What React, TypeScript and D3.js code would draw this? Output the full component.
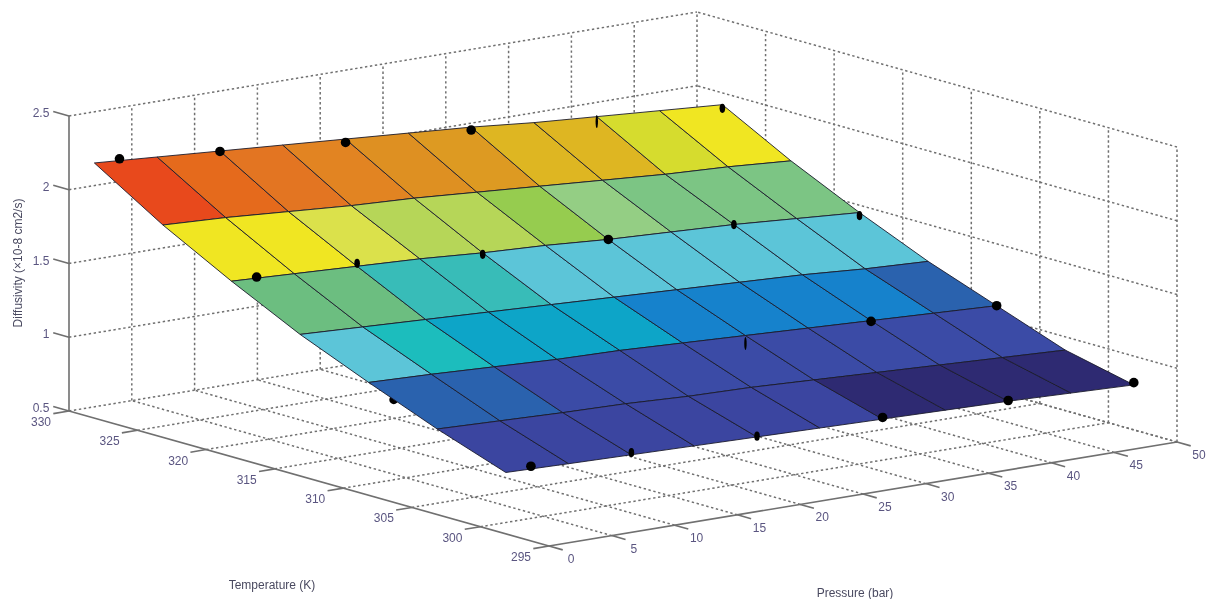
import React from "react";
import * as d3 from "d3";

// ---- data ----
const temperatures = [328.15, 323.15, 318.15, 313.15, 308.15, 303.15, 298.15];
const pressures = [0, 5, 10, 15, 20, 25, 30, 35, 40, 45, 50];
const row328 = [2.23, 2.2, 2.17, 2.14, 2.11, 2.08, 2.05, 2.01, 1.98, 1.95, 1.92];
const row323 = [1.94, 1.92, 1.89, 1.86, 1.84, 1.81, 1.78, 1.75, 1.72, 1.7, 1.67];
const row318 = [1.69, 1.67, 1.65, 1.63, 1.6, 1.58, 1.55, 1.53, 1.51, 1.48, 1.45];
const row313 = [1.46, 1.44, 1.42, 1.4, 1.38, 1.36, 1.34, 1.32, 1.3, 1.27, 1.25];
const row308 = [1.265, 1.25, 1.23, 1.21, 1.2, 1.18, 1.16, 1.14, 1.12, 1.1, 1.08];
const row303 = [1.08, 1.065, 1.05, 1.04, 1.02, 1.01, 0.99, 0.97, 0.95, 0.93, 0.91];
const row298 = [0.916, 0.905, 0.895, 0.885, 0.875, 0.865, 0.855, 0.845, 0.835, 0.82, 0.805];
const surface = [row328, row323, row318, row313, row308, row303, row298];

const pointPressures = [2, 10, 20, 30, 40, 50];
const points328 = [2.23, 2.167, 2.087, 2.03, 1.96, 1.895];
const points318 = [1.69, 1.67, 1.59, 1.55, 1.51, 1.43];
const points308 = [1.12, null, null, 1.12, 1.115, 1.08];
const points298 = [0.93, 0.91, 0.88, 0.866, 0.84, 0.82];
const pointRows: [number, (number | null)[]][] = [
  [328.15, points328], [318.15, points318], [308.15, points308], [298.15, points298],
];
// how much of each marker shows through the surface: 2 whole, 1 part, 0 sliver
const shown328 = [2, 2, 2, 2, 0, 1];
const shown318 = [2, 1, 1, 2, 1, 1];
const shown308 = [0, 0, 0, 0, 2, 2];
const shown298 = [2, 1, 1, 2, 2, 2];
const shownRows = [shown328, shown318, shown308, shown298];

const tempTicks = [295, 300, 305, 310, 315, 320, 325, 330];
const pressTicks = [0, 5, 10, 15, 20, 25, 30, 35, 40, 45, 50];
const zTicks = [0.5, 1, 1.5, 2, 2.5];
const zTickLabels = ["0.5", "1", "1.5", "2", "2.5"];

const bandLimits = [1.0, 1.09, 1.24, 1.28, 1.37, 1.43, 1.45, 1.61, 1.66, 1.695, 1.76, 1.79, 1.825, 1.875, 1.9, 1.965, 2.0, 2.065, 2.095, 2.12, 2.155, 2.185, 2.215];
const bandColors = ["#2e2a72", "#3a44a0", "#3a4ca6", "#2c62ae", "#1582cc", "#09a5c8", "#1fbdbd", "#5cc5d8", "#38bcb8", "#6cbe80", "#7bc584", "#94ce84", "#96cc50", "#b6d658", "#dbe14c", "#f0e620", "#d6dc2e", "#deb624", "#dd9a22", "#de9022", "#e28422", "#e37522", "#e56b1f", "#e8481f"];

// ---- scales: an orthographic view, one offset per data axis ----
const xT = d3.scaleLinear().domain([295, 330]).range([0, -480]);
const yT = d3.scaleLinear().domain([295, 330]).range([0, -135]);
const xP = d3.scaleLinear().domain([0, 50]).range([0, 628]);
const yP = d3.scaleLinear().domain([0, 50]).range([0, -104]);
const yZ = d3.scaleLinear().domain([0.5, 2.5]).range([0, -295]);
const color = d3.scaleThreshold<number, string>().domain(bandLimits).range(bandColors);

const originX = 549;
const originY = 546;
const proj = (t: number, p: number, z: number): [number, number] => [
  originX + xT(t) + xP(p),
  originY + yT(t) + yP(p) + yZ(z),
];
const line = d3.line<[number, number]>();
const seg = (a: [number, number, number], b: [number, number, number]) =>
  line([proj(a[0], a[1], a[2]), proj(b[0], b[1], b[2])]) as string;

const GRID = "#707070";
const AXIS = "#6f6f6f";
const TEXT = "#5a5580";
const FONT = "'Liberation Sans', Arial, sans-serif";

export default function App() {
  const gridPaths: string[] = [];
  // floor
  pressTicks.forEach((p) => { if (p > 0) gridPaths.push(seg([295, p, 0.5], [330, p, 0.5])); });
  tempTicks.forEach((t) => { if (t < 330 && t > 295) gridPaths.push(seg([t, 0, 0.5], [t, 50, 0.5])); });
  gridPaths.push(seg([330, 0, 0.5], [330, 50, 0.5]));
  // back-left wall (T = 330)
  pressTicks.forEach((p) => { if (p > 0) gridPaths.push(seg([330, p, 0.5], [330, p, 2.5])); });
  zTicks.forEach((z) => { if (z > 0.5) gridPaths.push(seg([330, 0, z], [330, 50, z])); });
  // back-right wall (P = 50)
  tempTicks.forEach((t) => { if (t < 330) gridPaths.push(seg([t, 50, 0.5], [t, 50, 2.5])); });
  zTicks.forEach((z) => gridPaths.push(seg([295, 50, z], [330, 50, z])));

  const faces: { d: string; fill: string }[] = [];
  for (let r = 0; r < temperatures.length - 1; r++) {
    for (let c = 0; c < pressures.length - 1; c++) {
      const corners = [
        proj(temperatures[r], pressures[c], surface[r][c]),
        proj(temperatures[r], pressures[c + 1], surface[r][c + 1]),
        proj(temperatures[r + 1], pressures[c + 1], surface[r + 1][c + 1]),
        proj(temperatures[r + 1], pressures[c], surface[r + 1][c]),
      ];
      faces.push({ d: (line(corners) as string) + "Z", fill: color(surface[r][c]) });
    }
  }

  const markers = pointRows.flatMap(([t, zs], i) =>
    zs.flatMap((z, j) => {
      if (z === null) return [];
      const [x, y] = proj(t, pointPressures[j], z);
      return [{ x, y, shown: shownRows[i][j] }];
    })
  );

  return (
    <svg
      width={1206}
      height={599}
      viewBox="0 0 1206 599"
      style={{ position: "absolute", left: 0, top: 0, background: "#fff" }}
    >
      <defs>
        <filter id="soft" x="-2%" y="-2%" width="104%" height="104%">
          <feGaussianBlur stdDeviation="0.7" />
        </filter>
      </defs>
      <g filter="url(#soft)">
        <g fill="none" stroke={GRID} strokeWidth={1.5} strokeDasharray="2.4 2.6">
          {gridPaths.map((d, i) => <path key={i} d={d} />)}
        </g>

        <g fill="none" stroke={AXIS} strokeWidth={1.6}>
          <path d={seg([330, 0, 0.5], [330, 0, 2.5])} />
          <path d={seg([330, 0, 0.5], [295, 0, 0.5])} />
          <path d={seg([295, 0, 0.5], [295, 50, 0.5])} />
          {zTicks.map((z) => <path key={z} d={seg([330, 0, z], [331.15, 0, z])} />)}
          {tempTicks.map((t) => <path key={t} d={seg([t, 0, 0.5], [t, -1.25, 0.5])} />)}
          {pressTicks.map((p) => <path key={p} d={seg([295, p, 0.5], [294, p, 0.5])} />)}
        </g>

        {markers.filter((m) => m.shown === 0 && m.y > 390 && m.x < 500).map((m, i) => (
          <circle key={i} cx={m.x} cy={m.y} r={4.5} fill="#000" />
        ))}

        <g stroke="#1c1c2c" strokeWidth={0.9} strokeLinejoin="round">
          {faces.map((f, i) => <path key={i} d={f.d} fill={f.fill} />)}
        </g>

        <g fill="#000">
          {markers.filter((m) => !(m.shown === 0 && m.y > 390 && m.x < 500)).map((m, i) =>
            m.shown === 2 ? (
              <circle key={i} cx={m.x} cy={m.y} r={4.8} />
            ) : m.shown === 1 ? (
              <ellipse key={i} cx={m.x} cy={m.y} rx={2.8} ry={4.6} />
            ) : (
              <ellipse key={i} cx={m.x} cy={m.y + 2} rx={1.2} ry={6.5} />
            )
          )}
        </g>

        <g fontFamily={FONT} fontSize={12} fill={TEXT} textAnchor="middle">
          {zTicks.map((z, i) => {
            const [x, y] = proj(330, 0, z);
            return (
              <text key={z} x={x - 28 + (zTickLabels[i].length === 1 ? 5 : 0)} y={y + 1}>{zTickLabels[i]}</text>
            );
          })}
          {tempTicks.map((t) => {
            const [x, y] = proj(t, 0, 0.5);
            return <text key={t} x={x - 28} y={y + 15}>{t}</text>;
          })}
          {pressTicks.map((p) => {
            const [x, y] = proj(295, p, 0.5);
            return <text key={p} x={x + 22} y={y + 17}>{p}</text>;
          })}
        </g>

        <g fontFamily={FONT} fontSize={12} fill="#4a4a60" textAnchor="middle">
          <text x={272} y={589}>Temperature (K)</text>
          <text x={855} y={597}>Pressure (bar)</text>
          <text transform="translate(22,263) rotate(-90)">Diffusivity (×10-8 cm2/s)</text>
        </g>
      </g>
    </svg>
  );
}
